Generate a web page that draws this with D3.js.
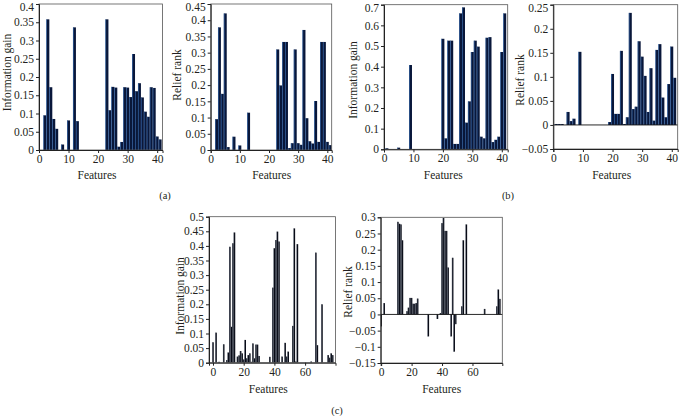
<!DOCTYPE html>
<html>
<head>
<meta charset="utf-8">
<script src="https://cdn.jsdelivr.net/npm/d3@7"></script>
<style>
body{margin:0;background:#fff;}
svg{display:block;font-family:"Liberation Serif","Times New Roman",serif;}
</style>
</head>
<body>
<svg id="chart" width="679" height="416"></svg>
<script>
// features 1..41 for (a) and (b), 0..79 for (c)
var featAB = d3.range(1, 42)
var featC = d3.range(0, 80)

var igA = [0, 0.095, 0.358, 0.172, 0.085, 0.058, 0, 0.015, 0, 0.081, 0, 0.336, 0.079,
    0, 0, 0, 0, 0, 0, 0, 0, 0,
    0.358, 0.109, 0.173, 0.171, 0.009, 0.022, 0.172, 0.171, 0.145, 0.263, 0.161, 0.183,
    0.144, 0.105, 0.091, 0.172, 0.170, 0.037, 0.029]

var reliefA = [0, 0.095, 0.378, 0.173, 0.421, 0.009, 0, 0.041, 0, 0.014, 0, 0, 0.115,
    0, 0, 0, 0, 0, 0, 0, 0, 0,
    0.310, 0.199, 0.333, 0.333, 0.006, 0.021, 0.310, 0.021, 0.016, 0.370, 0.098, 0.027,
    0.020, 0.151, 0.025, 0.333, 0.333, 0.025, 0.015]

var igB = [0.005, 0, 0, 0, 0.008, 0, 0, 0, 0.408,
    0, 0, 0, 0, 0, 0, 0, 0, 0, 0,
    0.535, 0.053, 0.526, 0.526, 0.026, 0.026, 0.658, 0.687, 0.129, 0.232, 0.471, 0.526,
    0.497, 0.061, 0.053, 0.540, 0.543, 0.035, 0.046, 0.061, 0.471, 0.658]

var reliefB = [0.002, 0.002, 0.002, 0, 0.027, 0.008, 0.013, 0, 0.152,
    0, 0, 0, 0, 0, 0, 0, 0, 0,
    0.006, 0.106, 0.023, 0.023, 0.154, 0.002, 0.016, 0.233, 0.033, 0.038, 0.174, 0.142,
    0.102, 0.027, 0.118, 0.009, 0.156, 0.168, 0.057, 0.016, 0.085, 0.163, 0.098]

var igC = [0.07, 0, 0.103, 0, 0.003, 0, 0, 0.063, 0, 0.009,
    0.035, 0.397, 0.123, 0.409, 0.446, 0, 0.021, 0.025, 0.040, 0.032,
    0.011, 0.078, 0.015, 0.026, 0.032, 0.003, 0.066, 0.015, 0.062, 0.062,
    0.023, 0, 0, 0, 0, 0, 0, 0.02, 0, 0.257,
    0.392, 0.42, 0.449, 0.415, 0, 0.021, 0, 0.068, 0.021, 0.038,
    0, 0, 0.126, 0.46, 0.004, 0.406, 0, 0, 0, 0,
    0, 0, 0, 0, 0.004, 0, 0, 0.377, 0.06, 0,
    0, 0.2, 0, 0, 0, 0.026, 0.017, 0.032, 0.026, 0]

var reliefC = [-0.037, 0, 0.035, 0, 0, 0, 0, 0, 0, 0,
    0, 0.286, 0.28, 0.278, 0.229, 0, 0, 0.01, 0.021, 0.051,
    0.051, 0.033, 0.033, 0.035, 0.049, 0, 0, 0, 0, 0,
    0, -0.068, 0, 0, 0, 0, 0, -0.014, 0, 0.004,
    0.282, 0.298, 0.258, 0.258, 0.145, 0, -0.068, 0.175, -0.115, -0.03,
    0, 0, 0, 0.025, 0.229, 0, 0.278, 0, 0, 0,
    0, 0, 0, 0, 0, 0, 0, 0, 0.017, 0,
    0, 0, 0, 0, 0, 0, 0.025, 0.077, 0.048, 0]

var ticks40 = [0, 0.05, 0.1, 0.15, 0.2, 0.25, 0.3, 0.35, 0.4]
var ticks45 = [0, 0.05, 0.1, 0.15, 0.2, 0.25, 0.3, 0.35, 0.4, 0.45]
var ticks70 = [0, 0.1, 0.2, 0.3, 0.4, 0.5, 0.6, 0.7]
var ticks25 = [-0.05, 0, 0.05, 0.1, 0.15, 0.2, 0.25]
var ticks50 = [0, 0.05, 0.1, 0.15, 0.2, 0.25, 0.3, 0.35, 0.4, 0.45, 0.5]
var ticks30 = [-0.15, -0.1, -0.05, 0, 0.05, 0.1, 0.15, 0.2, 0.25, 0.3]
var xTicksAB = [0, 10, 20, 30, 40]
var xTicksC = [0, 20, 40, 60]

var svg = d3.select("#chart")
var textColor = "#231f20"

var panels = [
    {feats: featAB, vals: igA, box: [39, 4, 162.5, 150], xd: [0, 41.8], yd: [0, 0.4], yt: ticks40, xt: xTicksAB,
        title: "Information gain", tpos: [6.7, 72.5], fpos: [97, 175], fill: "#09173a", edge: "#3c70b4"},
    {feats: featAB, vals: reliefA, box: [210.7, 4, 331.7, 150], xd: [0, 41.5], yd: [0, 0.45], yt: ticks45, xt: xTicksAB,
        title: "Relief rank", tpos: [176.7, 75], fpos: [271.7, 175], fill: "#09173a", edge: "#3c70b4"},
    {feats: featAB, vals: igB, box: [384, 4.7, 507.7, 149.3], xd: [0, 42], yd: [0, 0.7], yt: ticks70, xt: xTicksAB,
        title: "Information gain", tpos: [353.3, 80], fpos: [443.3, 175], fill: "#09173a", edge: "#3c70b4"},
    {feats: featAB, vals: reliefB, box: [553.3, 4.7, 677.7, 149], xd: [0, 42], yd: [-0.05, 0.25], yt: ticks25, xt: xTicksAB,
        title: "Relief rank", tpos: [520, 80], fpos: [611.7, 175], fill: "#09173a", edge: "#3c70b4"},
    {feats: featC, vals: igC, box: [209, 216.7, 335.5, 362.7], xd: [-2.6, 79.8], yd: [0, 0.5], yt: ticks50, xt: xTicksC,
        title: "Information gain", tpos: [180, 296], fpos: [268.3, 389.3], fill: "#080b16", edge: "#6f7a8a"},
    {feats: featC, vals: reliefC, box: [380.7, 217.3, 502.3, 363], xd: [-0.3, 79.6], yd: [-0.15, 0.3], yt: ticks30, xt: xTicksC,
        title: "Relief rank", tpos: [348.3, 292], fpos: [441.7, 389.3], fill: "#080b16", edge: "#6f7a8a"}
]

var fmt = d => {
    var s = String(+d.toFixed(2))
    return s.replace("-", "\u2212")
}

panels.forEach(function(p, k){
    var left = p.box[0], top = p.box[1], right = p.box[2], bottom = p.box[3]
    var xScale = d3.scaleLinear().domain(p.xd).range([left, right])
    var yScale = d3.scaleLinear().domain(p.yd).range([bottom, top])

    var g = svg.append("g")

    g.append("clipPath").attr("id", "clip" + k)
        .append("rect")
        .attr("x", left).attr("y", top)
        .attr("width", right - left).attr("height", bottom - top)

    var data = p.feats.map((f, i) => ({f: f, v: p.vals[i]})).filter(d => d.v != 0)

    var bars = g.append("g").attr("clip-path", "url(#clip" + k + ")")

    bars.selectAll("rect.bar")
        .data(data)
        .enter()
        .append("rect")
        .attr("class", "bar")
        .attr("x", d => xScale(d.f - 0.5))
        .attr("width", d => xScale(d.f + 0.5) - xScale(d.f - 0.5))
        .attr("y", d => yScale(Math.max(0, d.v)))
        .attr("height", d => Math.abs(yScale(d.v) - yScale(0)))
        .attr("fill", p.fill)

    // light highlight on the left side of each bar
    bars.selectAll("rect.edge")
        .data(data)
        .enter()
        .append("rect")
        .attr("class", "edge")
        .attr("x", d => xScale(d.f - 0.5))
        .attr("width", k < 4 ? 0.6 : 0.35)
        .attr("y", d => yScale(Math.max(0, d.v)))
        .attr("height", d => Math.abs(yScale(d.v) - yScale(0)))
        .attr("fill", p.edge)

    // zero line when the axis has negatives
    if (p.yd[0] < 0) {
        g.append("line")
            .attr("x1", left).attr("x2", right)
            .attr("y1", yScale(0)).attr("y2", yScale(0))
            .attr("stroke", "#111").attr("stroke-width", 0.9)
    }

    // frame
    g.append("rect")
        .attr("x", left).attr("y", top)
        .attr("width", right - left).attr("height", bottom - top)
        .attr("fill", "none")
        .attr("stroke", "#555")
        .attr("stroke-width", 0.8)

    var yAxis = g.append("g")
        .attr("transform", `translate(${left},0)`)
        .call(d3.axisLeft(yScale).tickValues(p.yt).tickFormat(fmt).tickSize(3).tickPadding(2))
    var xAxis = g.append("g")
        .attr("transform", `translate(0,${bottom})`)
        .call(d3.axisBottom(xScale).tickValues(p.xt).tickFormat(d => d).tickSize(3).tickPadding(2))

    ;[yAxis, xAxis].forEach(a => {
        a.selectAll("text").attr("font-family", "Liberation Serif").attr("font-size", "11.5px").attr("fill", textColor)
        a.selectAll("line").attr("stroke", "#222")
        a.select(".domain").attr("stroke", "#222")
    })

    // keep the top tick label inside the page
    yAxis.selectAll(".tick text")
        .filter(d => yScale(d) < 8)
        .attr("dy", "0.55em")

    g.append("text")
        .attr("transform", `translate(${p.tpos[0]},${p.tpos[1]}) rotate(-90)`)
        .attr("text-anchor", "middle")
        .attr("dy", "0.35em")
        .attr("font-size", "11.5px")
        .attr("fill", textColor)
        .text(p.title)

    g.append("text")
        .attr("x", p.fpos[0]).attr("y", p.fpos[1])
        .attr("text-anchor", "middle")
        .attr("dy", "0.35em")
        .attr("font-size", "11.5px")
        .attr("fill", textColor)
        .text("Features")
})

var subLabels = [["(a)", 165, 195], ["(b)", 508, 195], ["(c)", 337, 410]]
svg.selectAll("text.sub")
    .data(subLabels)
    .enter()
    .append("text")
    .attr("class", "sub")
    .attr("x", d => d[1]).attr("y", d => d[2])
    .attr("text-anchor", "middle")
    .attr("dy", "0.35em")
    .attr("font-size", "10.5px")
    .attr("fill", textColor)
    .text(d => d[0])
</script>
</body>
</html>
